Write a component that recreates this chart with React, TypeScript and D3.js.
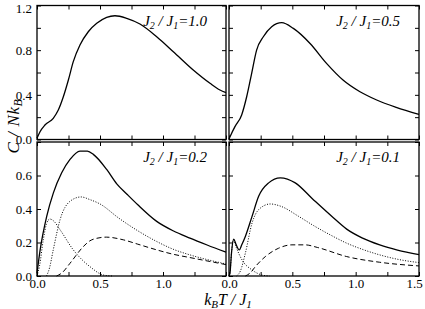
import React, { useRef, useEffect } from "react";
import * as d3 from "d3";

// J2/J1 values shown in the four panels
const ratios = ["1.0", "0.5", "0.2", "0.1"];

// tick values
const xTicks = [0, 0.25, 0.5, 0.75, 1.0, 1.25, 1.5];
const xLabelsLeft = [0, 0.5, 1.0];
const xLabelsRight = [0, 0.5, 1.0, 1.5];
const yTicksTop = [0, 0.2, 0.4, 0.6, 0.8, 1.0, 1.2];
const yLabelsTop = [0, 0.4, 0.8, 1.2];
const yTicksBottom = [0, 0.2, 0.4, 0.6, 0.8];
const yLabelsBottom = [0, 0.2, 0.4, 0.6];

// J2/J1 = 1.0, total
const tA = [0, 0.024, 0.063, 0.129, 0.169, 0.209, 0.249, 0.288, 0.341, 0.407, 0.474, 0.553, 0.619, 0.712, 0.817, 0.95, 1.082, 1.24, 1.373, 1.452, 1.5];
const cA = [0.011, 0.07, 0.13, 0.19, 0.264, 0.383, 0.533, 0.697, 0.846, 0.965, 1.04, 1.094, 1.108, 1.085, 1.034, 0.92, 0.786, 0.622, 0.503, 0.443, 0.42];

// J2/J1 = 0.5, total
const tB = [0, 0.008, 0.047, 0.1, 0.14, 0.179, 0.218, 0.271, 0.337, 0.416, 0.508, 0.64, 0.77, 0.9, 1.034, 1.166, 1.32, 1.5];
const cB = [0.005, 0.025, 0.115, 0.22, 0.385, 0.593, 0.801, 0.92, 1.01, 1.046, 0.995, 0.86, 0.682, 0.533, 0.428, 0.354, 0.288, 0.224];

// J2/J1 = 0.2
const tCs = [0, 0.025, 0.077, 0.13, 0.196, 0.262, 0.341, 0.4, 0.447, 0.553, 0.633, 0.712, 0.8, 0.95, 1.08, 1.214, 1.35, 1.5];
const cCs = [0.016, 0.156, 0.356, 0.496, 0.616, 0.696, 0.746, 0.745, 0.726, 0.636, 0.55, 0.49, 0.425, 0.326, 0.27, 0.226, 0.185, 0.142];
const tCd = [0.076, 0.1, 0.129, 0.183, 0.262, 0.35, 0.42, 0.5, 0.65, 0.8, 0.95, 1.08, 1.214, 1.35, 1.5];
const cCd = [0, 0.05, 0.156, 0.336, 0.446, 0.472, 0.456, 0.43, 0.345, 0.27, 0.206, 0.16, 0.126, 0.098, 0.072];
const tCp = [0, 0.02, 0.05, 0.075, 0.102, 0.13, 0.183, 0.288, 0.36, 0.42, 0.526, 0.6];
const cCp = [0, 0.06, 0.216, 0.31, 0.34, 0.33, 0.276, 0.156, 0.095, 0.056, 0.006, 0];
const tCh = [0.155, 0.2, 0.262, 0.368, 0.42, 0.473, 0.55, 0.685, 0.8, 0.95, 1.08, 1.214, 1.35, 1.5];
const cCh = [0, 0.02, 0.076, 0.176, 0.21, 0.225, 0.232, 0.216, 0.19, 0.156, 0.13, 0.11, 0.09, 0.068];

// J2/J1 = 0.1
const tDs = [0, 0.008, 0.02, 0.037, 0.055, 0.081, 0.1, 0.129, 0.182, 0.234, 0.313, 0.405, 0.523, 0.66, 0.813, 0.929, 1.05, 1.19, 1.33, 1.5];
const cDs = [0, 0.02, 0.14, 0.22, 0.19, 0.156, 0.185, 0.236, 0.356, 0.476, 0.556, 0.586, 0.556, 0.46, 0.355, 0.28, 0.228, 0.186, 0.155, 0.127];
const tDd = [0.06, 0.09, 0.129, 0.182, 0.234, 0.326, 0.41, 0.55, 0.67, 0.813, 0.929, 1.05, 1.19, 1.33, 1.5];
const cDd = [0, 0.03, 0.136, 0.316, 0.396, 0.43, 0.416, 0.356, 0.3, 0.24, 0.196, 0.16, 0.126, 0.1, 0.08];
const tDp = [0, 0.008, 0.02, 0.035, 0.06, 0.103, 0.182, 0.26, 0.32];
const cDp = [0, 0.02, 0.14, 0.215, 0.165, 0.096, 0.036, 0.006, 0];
const tDh = [0.129, 0.17, 0.208, 0.287, 0.392, 0.497, 0.6, 0.7, 0.929, 1.19, 1.5];
const cDh = [0, 0.02, 0.056, 0.116, 0.166, 0.186, 0.186, 0.17, 0.116, 0.082, 0.06];

type Style = "solid" | "dot" | "dash";
const mk = (t: number[], c: number[], style: Style) => ({ pts: t.map((v, i) => [v, c[i]] as [number, number]), style });

const panelSeries = [
  [mk(tA, cA, "solid")],
  [mk(tB, cB, "solid")],
  [mk(tCs, cCs, "solid"), mk(tCd, cCd, "dot"), mk(tCp, cCp, "dot"), mk(tCh, cCh, "dash")],
  [mk(tDs, cDs, "solid"), mk(tDd, cDd, "dot"), mk(tDp, cDp, "dot"), mk(tDh, cDh, "dash")],
];

const W = 425;
const H = 309;
const FONT = "Liberation Serif, Times New Roman, serif";

const App: React.FC = () => {
  const ref = useRef<SVGSVGElement | null>(null);

  useEffect(() => {
    const svg = d3.select(ref.current);
    svg.selectAll("*").remove();

    const cols = [[37, 226], [229, 419]];
    const rows = [[139.5, 5.5], [276, 142]];

    panelSeries.forEach((series, i) => {
      const col = i % 2;
      const row = Math.floor(i / 2);
      const x = d3.scaleLinear().domain([0, 1.5]).range(cols[col]);
      const y = d3
        .scaleLinear()
        .domain(row === 0 ? [0, 1.2] : [0, 0.8])
        .range(rows[row]);
      const [x0, x1] = cols[col];
      const [y1, y0] = rows[row];
      const g = svg.append("g");

      const line = d3
        .line<[number, number]>()
        .x((d) => x(d[0]))
        .y((d) => y(d[1]))
        .curve(d3.curveMonotoneX);

      series.forEach((s) => {
        g.append("path")
          .attr("d", line(s.pts))
          .attr("fill", "none")
          .attr("stroke", "#000")
          .attr("stroke-width", s.style === "solid" ? 1.3 : 1)
          .attr("stroke-dasharray", s.style === "dot" ? "1,1.6" : s.style === "dash" ? "5,3" : null);
      });

      const yT = row === 0 ? yTicksTop : yTicksBottom;
      const yL = row === 0 ? yLabelsTop : yLabelsBottom;
      const xL = col === 0 ? xLabelsLeft : xLabelsRight;
      const has = (arr: number[], v: number) => arr.some((a) => Math.abs(a - v) < 1e-6);

      // left
      const ax = g.append("g")
        .attr("transform", `translate(${x0},0)`)
        .call(
          d3.axisLeft(y).tickValues(yT).tickSize(-4).tickPadding(5)
            .tickFormat((d) => (col === 0 && has(yL, +d) ? d3.format(".1f")(+d) : ""))
        );
      // keep the top label inside the picture
      ax.selectAll<SVGTextElement, number>(".tick text")
        .filter((d) => Math.abs(d - 1.2) < 1e-6)
        .attr("dy", "0.55em");
      // right
      g.append("g")
        .attr("transform", `translate(${x1},0)`)
        .call(d3.axisRight(y).tickValues(yT).tickSize(-4).tickFormat(() => ""));
      // bottom
      const bx = g.append("g")
        .attr("transform", `translate(0,${y1})`)
        .call(
          d3.axisBottom(x).tickValues(xTicks).tickSize(-4).tickPadding(3)
            .tickFormat((d) => (row === 1 && has(xL, +d) ? d3.format(".1f")(+d) : ""))
        );
      bx.selectAll<SVGTextElement, number>(".tick text")
        .filter((d) => Math.abs(d - 1.5) < 1e-6)
        .attr("dx", -5);
      // top
      g.append("g")
        .attr("transform", `translate(0,${y0})`)
        .call(d3.axisTop(x).tickValues(xTicks).tickSize(-4).tickFormat(() => ""));

      g.selectAll(".domain").remove();
      g.selectAll("g").attr("font-family", null);
      g.selectAll(".tick line").attr("stroke", "#000");
      g.selectAll(".tick text")
        .style("font-family", FONT)
        .style("font-size", "13px")
        .attr("fill", "#000");

      g.append("rect")
        .attr("x", x0)
        .attr("y", y0)
        .attr("width", x1 - x0)
        .attr("height", y1 - y0)
        .attr("fill", "none")
        .attr("stroke", "#000")
        .attr("stroke-width", 1.3);

      const title = g
        .append("text")
        .attr("x", x1 - 19)
        .attr("y", y0 + 20)
        .attr("text-anchor", "end")
        .style("font-family", FONT)
        .style("font-style", "italic")
        .style("font-size", "15px");
      title.append("tspan").text("J");
      title.append("tspan").style("font-size", "10px").attr("dy", 3).text("2");
      title.append("tspan").attr("dy", -3).text(" / J");
      title.append("tspan").style("font-size", "10px").attr("dy", 3).text("1");
      title.append("tspan").attr("dy", -3).text("=" + ratios[i]);
    });

    const yLab = svg
      .append("text")
      .attr("transform", "translate(19,126) rotate(-90)")
      .attr("text-anchor", "middle")
      .style("font-family", FONT)
      .style("font-style", "italic")
      .style("font-size", "17px")
      .style("letter-spacing", "0.6px");
    yLab.append("tspan").text("C / Nk");
    yLab.append("tspan").style("font-size", "12px").attr("dy", 3).text("B");

    const xLab = svg
      .append("text")
      .attr("x", 228)
      .attr("y", 305)
      .attr("text-anchor", "middle")
      .style("font-family", FONT)
      .style("font-style", "italic")
      .style("font-size", "16px");
    xLab.append("tspan").text("k");
    xLab.append("tspan").style("font-size", "11px").attr("dy", 3).text("B");
    xLab.append("tspan").attr("dy", -3).text("T / J");
    xLab.append("tspan").style("font-size", "11px").attr("dy", 3).text("1");
  }, []);

  return (
    <svg
      ref={ref}
      width={W}
      height={H}
      style={{ position: "absolute", left: 0, top: 0, background: "#fff" }}
    ></svg>
  );
};

export default App;
